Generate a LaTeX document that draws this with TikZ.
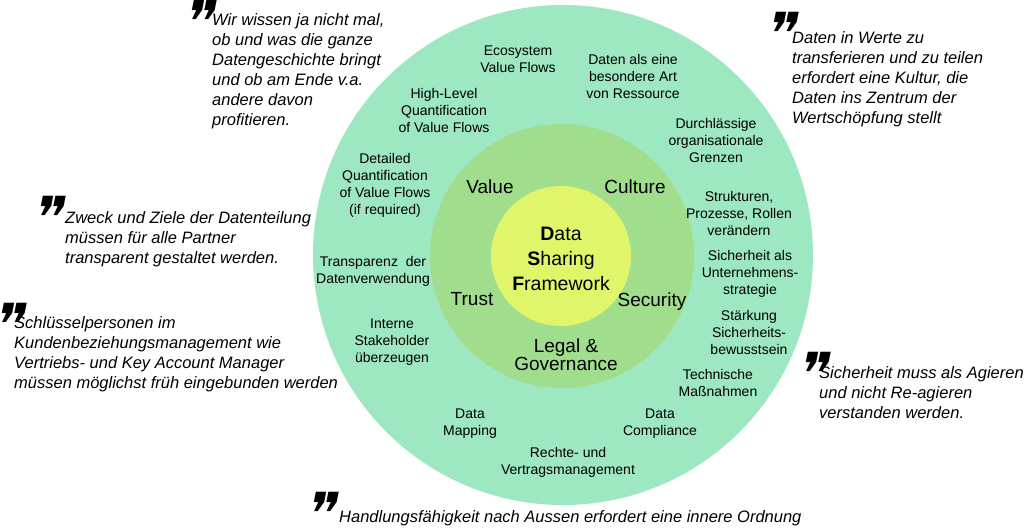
\documentclass[tikz,border=0pt]{standalone}
\usepackage{fontspec}
\setmainfont{Liberation Sans}
\newfontfamily\markfont[FakeSlant=0.2]{DejaVu Sans}
\definecolor{outerc}{RGB}{157,232,193}
\definecolor{midc}{RGB}{160,222,142}
\definecolor{innerc}{RGB}{224,245,106}
\tikzset{
  ring/.style={font=\fontsize{14}{17}\selectfont, align=center, inner sep=0pt, text=black},
  midlbl/.style={font=\fontsize{19}{15}\selectfont, align=center, inner sep=0pt},
  core/.style={font=\fontsize{19.5}{25}\selectfont, align=center, inner sep=0pt},
  quotetxt/.style={font=\fontsize{16.5}{20}\selectfont\itshape, align=left, inner sep=0pt, anchor=north west},
  qmark/.style={font=\fontsize{58}{58}\selectfont\markfont, inner sep=0pt, anchor=north west, text depth=-24pt},
  disc/.style={circle, inner sep=0pt, draw=none}
}
\begin{document}
\begin{tikzpicture}[x=1pt,y=-1pt]
\useasboundingbox (0,0) rectangle (1024,527);
% circles
\node[disc, fill=outerc, minimum size=500pt] (outer) at (563,255) {};
\node[disc, fill=midc, minimum size=264pt] (middle) at (562,256) {};
\node[disc, fill=innerc, minimum size=140pt] (inner) at (561,256) {};
% core
\node[core] (dsf) at (561,259) {\textbf{D}ata\\\textbf{S}haring\\\textbf{F}ramework};
% middle ring labels
\node[midlbl] (value) at (490,187) {Value};
\node[midlbl] (culture) at (635,187) {Culture};
\node[midlbl] (trust) at (472,299) {Trust};
\node[midlbl] (security) at (652,302) {Security};
\node[midlbl] (legal) at (566,355) {Legal \&\\Governance};
% outer ring labels
\node[ring] (eco) at (518,59) {Ecosystem\\Value Flows};
\node[ring] (ressource) at (633,76) {Daten als eine\\besondere Art\\von Ressource};
\node[ring] (highlevel) at (444,110) {High-Level\\Quantification\\of Value Flows};
\node[ring] (grenzen) at (716,140) {Durchlässige\\organisationale\\Grenzen};
\node[ring] (detailed) at (385,185) {Detailed\\Quantification\\of Value Flows\\(if required)};
\node[ring] (strukturen) at (739,213) {Strukturen,\\Prozesse, Rollen\\verändern};
\node[ring] (transparenz) at (373,271) {Transparenz\ \ der\\Datenverwendung};
\node[ring] (strategie) at (750,274) {Sicherheit als\\Unternehmens-\\strategie};
\node[ring] (bewusst) at (749,332) {Stärkung\\Sicherheits-\\bewusstsein};
\node[ring] (interne) at (392,342) {Interne\\Stakeholder\\überzeugen};
\node[ring] (technisch) at (718,383) {Technische\\Maßnahmen};
\node[ring] (mapping) at (470,424) {Data\\Mapping};
\node[ring] (compliance) at (660,424) {Data\\Compliance};
\node[ring] (rechte) at (568,462) {Rechte- und\\Vertragsmanagement};
% quotes
\node[qmark] (m1) at (182,0) {❞};
\node[quotetxt] (q1) at (212,13) {Wir wissen ja nicht mal,\\ob und was die ganze\\Datengeschichte bringt\\und ob am Ende v.a.\\andere davon\\profitieren.};
\node[qmark] (m2) at (764,12) {❞};
\node[quotetxt] (q2) at (792,31) {Daten in Werte zu\\transferieren und zu teilen\\erfordert eine Kultur, die\\Daten ins Zentrum der\\Wertschöpfung stellt};
\node[qmark] (m3) at (31,196) {❞};
\node[quotetxt] (q3) at (65,211) {Zweck und Ziele der Datenteilung\\müssen für alle Partner\\transparent gestaltet werden.};
\node[qmark] (m4) at (-8,303) {❞};
\node[quotetxt] (q4) at (14,316) {Schlüsselpersonen im\\Kundenbeziehungsmanagement wie\\Vertriebs- und Key Account Manager\\müssen möglichst früh eingebunden werden};
\node[qmark] (m5) at (796,352) {❞};
\node[quotetxt] (q5) at (819,366) {Sicherheit muss als Agieren\\und nicht Re-agieren\\verstanden werden.};
\node[qmark] (m6) at (304,492) {❞};
\node[quotetxt] (q6) at (339,510) {Handlungsfähigkeit nach Aussen erfordert eine innere Ordnung};
\end{tikzpicture}
\end{document}
